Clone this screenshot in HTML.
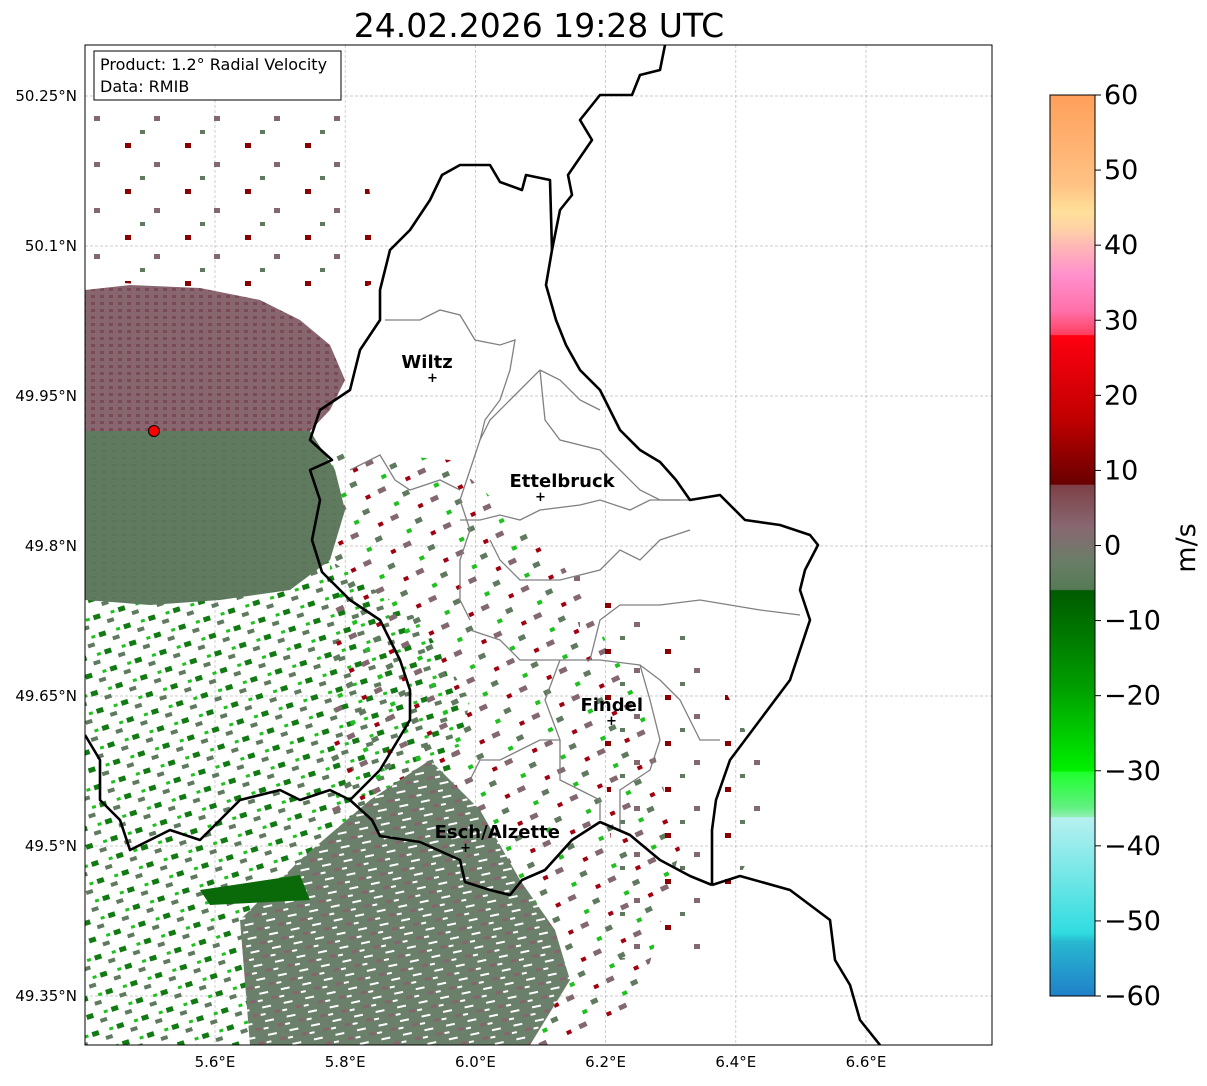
<!DOCTYPE html>
<html><head><meta charset="utf-8"><style>
body{margin:0;background:#fff;font-family:"Liberation Sans","DejaVu Sans",sans-serif}
svg text{font-family:"DejaVu Sans","Liberation Sans",sans-serif}
</style></head><body>
<svg id="chart" width="1207" height="1081" viewBox="0 0 1207 1081" xmlns="http://www.w3.org/2000/svg">
<defs>
<pattern id="pPink" width="9" height="7" patternUnits="userSpaceOnUse"><rect width="9" height="7" fill="#876670"/><rect x="1" y="1" width="4" height="3" fill="#7a4a55"/></pattern>
<pattern id="pGreen" width="10" height="7" patternUnits="userSpaceOnUse"><rect width="10" height="7" fill="#5f7a5f"/><rect x="2" y="2" width="4" height="2" fill="#587556"/></pattern>
<pattern id="pStreak" width="22" height="14" patternUnits="userSpaceOnUse" patternTransform="rotate(-12)"><rect width="22" height="14" fill="#6a806a"/><rect x="3" y="3" width="9" height="2" fill="#fff"/><rect x="14" y="9" width="6" height="3" fill="#84666c"/><rect x="0" y="10" width="5" height="2" fill="#fff"/></pattern>
<pattern id="pSparseG" width="26" height="18" patternUnits="userSpaceOnUse" patternTransform="rotate(-18)"><rect x="2" y="2" width="7" height="5" fill="#127a12"/><rect x="14" y="10" width="7" height="4" fill="#5f7a5f"/><rect x="20" y="3" width="4" height="3" fill="#20c020"/></pattern>
<pattern id="pSparseM" width="44" height="30" patternUnits="userSpaceOnUse" patternTransform="rotate(-25)"><rect x="3" y="3" width="8" height="5" fill="#846870"/><rect x="24" y="16" width="7" height="5" fill="#5f7a5f"/><rect x="33" y="4" width="5" height="4" fill="#a00010"/><rect x="12" y="22" width="5" height="4" fill="#20c020"/></pattern>
<pattern id="pSparseR" width="60" height="46" patternUnits="userSpaceOnUse"><rect x="5" y="5" width="6" height="5" fill="#8a0000"/><rect x="34" y="24" width="6" height="5" fill="#846870"/><rect x="20" y="38" width="5" height="4" fill="#5f7a5f"/></pattern>
<linearGradient id="cbGrad" x1="0" y1="0" x2="0" y2="1">
<stop offset="0" stop-color="#ffa05a"/><stop offset="0.05" stop-color="#ffb070"/><stop offset="0.1" stop-color="#ffc384"/>
<stop offset="0.13" stop-color="#ffe09a"/><stop offset="0.15" stop-color="#ffd0a8"/><stop offset="0.17" stop-color="#ffb4b8"/>
<stop offset="0.2" stop-color="#ff90cc"/><stop offset="0.24" stop-color="#ff70a8"/><stop offset="0.266" stop-color="#ff4060"/>
<stop offset="0.267" stop-color="#ff0010"/><stop offset="0.36" stop-color="#c00000"/><stop offset="0.432" stop-color="#680000"/>
<stop offset="0.433" stop-color="#7e4046"/><stop offset="0.48" stop-color="#886872"/><stop offset="0.52" stop-color="#687e66"/>
<stop offset="0.549" stop-color="#557a55"/><stop offset="0.55" stop-color="#005a00"/><stop offset="0.66" stop-color="#00a000"/>
<stop offset="0.75" stop-color="#00f000"/><stop offset="0.752" stop-color="#20ff30"/><stop offset="0.79" stop-color="#60f080"/>
<stop offset="0.801" stop-color="#90f0b0"/><stop offset="0.802" stop-color="#b8f0f0"/><stop offset="0.87" stop-color="#70e6e6"/>
<stop offset="0.93" stop-color="#30dce0"/><stop offset="0.94" stop-color="#28b8d0"/><stop offset="1" stop-color="#2080c8"/>
</linearGradient>
<clipPath id="mapClip"><rect x="85" y="45" width="907" height="1000"/></clipPath>
</defs>

<text x="539" y="37" font-size="33" text-anchor="middle">24.02.2026 19:28 UTC</text>

<g id="map" clip-path="url(#mapClip)">
 <g id="grid"></g>
 <g>
  <path fill="url(#pSparseG)" d="M85 570 L330 560 L420 620 L470 700 L450 800 L380 900 L300 1045 L85 1045 Z"/>
  <path fill="url(#pSparseM)" d="M330 450 L450 460 L560 560 L640 700 L680 850 L640 1000 L560 1045 L330 1045 L330 600 Z"/>
  <path fill="url(#pSparseR)" d="M85 110 L360 110 L380 280 L340 300 L85 280 Z"/>
  <path fill="url(#pSparseR)" d="M560 560 L700 640 L780 800 L700 950 L620 960 L600 700 Z"/>
  <path fill="url(#pPink)" d="M85 290 L130 285 L200 288 L260 300 L300 320 L330 345 L345 380 L330 410 L310 431 L85 431 Z"/>
  <path fill="url(#pGreen)" d="M85 431 L310 431 L335 470 L345 510 L330 560 L290 590 L220 600 L150 605 L85 600 Z"/>
  <path fill="url(#pStreak)" d="M240 920 L300 860 L370 800 L430 760 L480 810 L520 880 L555 930 L570 980 L530 1045 L250 1045 Z"/>
  <path fill="#0a6a0a" d="M200 890 L300 875 L310 900 L210 905 Z"/>
 </g>
 <g fill="none" stroke="#808080" stroke-width="1.3">
  <path d="M385 320 L420 320 L440 310 L460 315 L475 340 L500 345 L515 340 L510 370 L500 400 L485 420 L480 440 L470 470 L460 500 L470 530 L460 560 L460 600 L470 620"/>
  <path d="M350 470 L380 455 L395 480 L410 490 L440 480 L460 490"/>
  <path d="M480 440 L490 420 L510 400 L540 370 L560 380 L580 400 L600 410"/>
  <path d="M540 370 L545 420 L560 440 L600 450 L620 470 L640 490 L660 500 L680 500"/>
  <path d="M460 520 L480 520 L500 515 L520 520 L540 510 L580 505 L600 500 L630 510 L650 500 L690 500"/>
  <path d="M490 540 L500 560 L520 580 L560 580 L600 570 L620 550 L640 560 L660 540 L690 530"/>
  <path d="M470 630 L500 640 L520 660 L560 660 L600 660 L640 665 L660 680 L680 700 L700 740 L720 740"/>
  <path d="M590 660 L600 620 L620 605 L660 605 L700 600 L760 610 L800 615"/>
  <path d="M560 660 L545 700 L560 740 L560 780 L580 790 L600 800 L600 820"/>
  <path d="M640 665 L650 700 L660 740 L650 770 L620 790 L620 830"/>
  <path d="M470 780 L480 760 L500 760 L540 740 L560 740"/>
 </g>
 <g fill="none" stroke="#000" stroke-width="2.6" stroke-linejoin="round">
  <path d="M665 45 L660 70 L640 75 L632 95 L600 95 L580 120 L592 140 L568 175 L572 195 L560 210 L552 250 L546 285 L556 320 L566 345 L580 370 L600 390 L610 410 L620 430 L640 450 L660 462 L676 480 L690 500 L720 495 L745 520 L780 525 L810 535 L818 545 L805 570 L800 590 L810 620 L800 650 L790 680 L760 720 L730 760 L716 800 L712 830 L712 885"/>
  <path d="M712 885 L740 876 L790 890 L830 920 L835 960 L850 985 L860 1020 L880 1045"/>
  <path d="M712 885 L690 876 L660 860 L630 835 L600 822 L572 840 L545 870 L522 880 L510 895 L490 890 L465 882 L460 860 L420 842 L380 836 L372 820 L350 800"/>
  <path d="M350 800 L330 790 L300 800 L280 790 L240 800 L220 820 L200 840 L170 830 L130 850 L120 820 L100 800 L100 760 L85 735"/>
  <path d="M350 800 L380 770 L392 750 L410 720 L410 690 L400 660 L390 640 L380 620 L350 600 L322 572 L312 540 L320 500 L310 470 L332 460 L310 440 L320 410 L350 390 L360 350 L380 320 L380 290 L390 250 L410 230 L430 200 L442 175 L460 165 L490 165 L500 182 L522 190 L526 175 L550 180 L552 250"/>
 </g>
 <g id="cities"></g>
 <circle cx="154" cy="431" r="5.5" fill="#f00" stroke="#000" stroke-width="1"/>
</g>
<rect x="85" y="45" width="907" height="1000" fill="none" stroke="#000" stroke-width="1"/>
<g>
 <rect x="94" y="51" width="247" height="49" fill="#fff" stroke="#000" stroke-width="1"/>
 <text x="100" y="70" font-size="16">Product: 1.2° Radial Velocity</text>
 <text x="100" y="92" font-size="16">Data: RMIB</text>
</g>
<g id="axes"></g>
<g id="colorbar">
 <rect x="1050" y="95" width="45" height="901" fill="url(#cbGrad)" stroke="#000" stroke-width="1"/>
 <text x="1195" y="548" font-size="27" text-anchor="middle" transform="rotate(-90 1195 548)">m/s</text>
</g>
</svg>
<script>
const latTicks=[50.25,50.1,49.95,49.8,49.65,49.5,49.35];
const lonTicks=[5.6,5.8,6.0,6.2,6.4,6.6];
const cbTicks=[60,50,40,30,20,10,0,-10,-20,-30,-40,-50,-60];
const cityNames=["Wiltz","Ettelbruck","Findel","Esch/Alzette"];
const cityLon=[5.934,6.1,6.209,5.985];
const cityLat=[49.968,49.849,49.625,49.498];
const NS='http://www.w3.org/2000/svg';
function xLon(v){return 215+(v-5.6)*651;}
function yLat(v){return 96+(50.25-v)*1000;}
function yCb(v){return 95+(60-v)*901/120;}
function mk(tag,attrs,parent){const e=document.createElementNS(NS,tag);for(const k in attrs)e.setAttribute(k,attrs[k]);parent.appendChild(e);return e;}
const grid=document.getElementById('grid'),axes=document.getElementById('axes'),cb=document.getElementById('colorbar'),cities=document.getElementById('cities');
latTicks.forEach(v=>{const y=yLat(v);
 const l=mk('line',{x1:85,x2:992,y1:y,y2:y,stroke:'#bbb','stroke-width':0.7,'stroke-dasharray':'3,2'},grid);
 
 
 const t=mk('text',{x:77,y:y+5,'font-size':15,'text-anchor':'end'},axes);t.textContent=v+'°N';
 
 
});
lonTicks.forEach(v=>{const x=xLon(v);
 const l=mk('line',{x1:x,x2:x,y1:45,y2:1045,stroke:'#bbb','stroke-width':0.7,'stroke-dasharray':'3,2'},grid);
 
 
 const t=mk('text',{x:x,y:1067,'font-size':15,'text-anchor':'middle'},axes);t.textContent=v.toFixed(1)+'°E';
 
 
});
cbTicks.forEach(v=>{const y=yCb(v);
 const l=mk('line',{x1:1095,x2:1101,y1:y,y2:y,stroke:'#000','stroke-width':1},cb);
 
 
 const t=mk('text',{x:1104,y:y+9,'font-size':27},cb);t.textContent=v<0?'\u2212'+Math.abs(v):String(v);
 
 
});
cityNames.forEach((n,i)=>{const x=xLon(cityLon[i]),y=yLat(cityLat[i]);
 const m=mk('text',{x:x,y:y+4,'font-size':13,'text-anchor':'middle','font-weight':'bold'},cities);m.textContent='+';
 
 
 const t=mk('text',{x:x-31,y:y-10,'font-size':18,'font-weight':'bold','text-anchor':'start'},cities);t.textContent=n;
 
 
});
</script>
</body></html>
